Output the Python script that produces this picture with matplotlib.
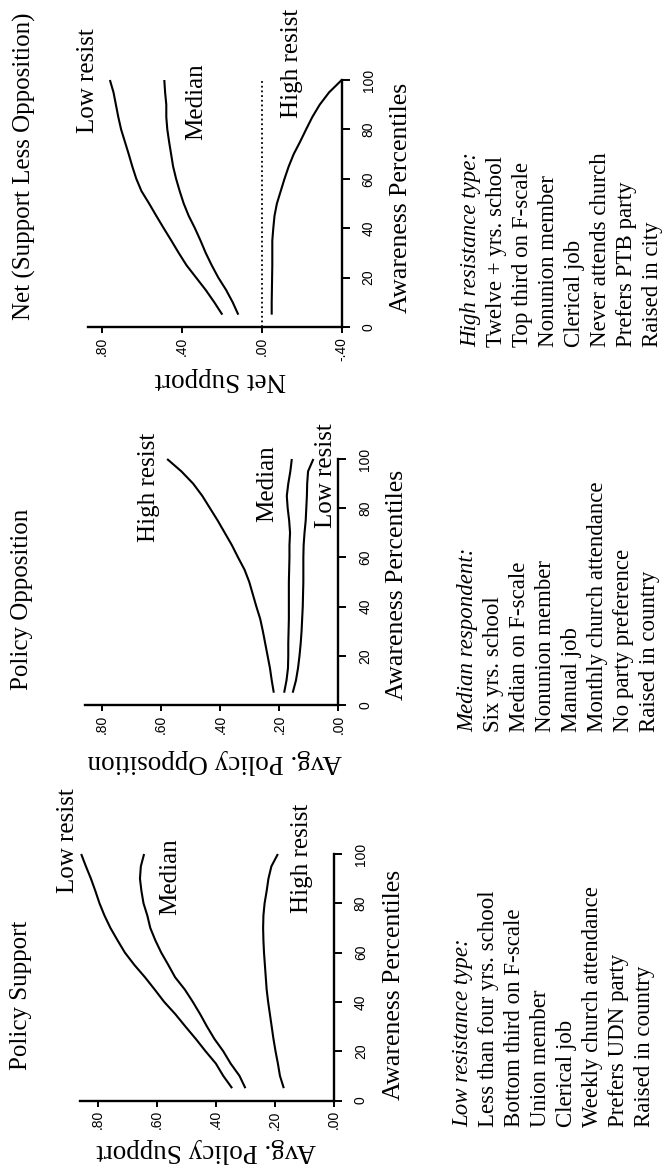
import matplotlib
matplotlib.use("Agg")
import matplotlib.pyplot as plt

W, H, DPI = 666, 1174, 100

# ---------------- data ----------------
awareness = [5, 10, 15, 20, 25, 30, 35, 40, 45, 50, 55, 60, 65, 70, 75, 80, 85, 90, 95, 100]

support_low = [0.345, 0.375, 0.400, 0.435, 0.468, 0.503, 0.537, 0.575, 0.607, 0.640,
               0.676, 0.708, 0.733, 0.757, 0.777, 0.794, 0.808, 0.823, 0.840, 0.856]
support_med = [0.300, 0.320, 0.350, 0.375, 0.405, 0.430, 0.453, 0.478, 0.505, 0.538,
               0.561, 0.585, 0.605, 0.622, 0.632, 0.645, 0.652, 0.657, 0.654, 0.643]
support_high = [0.170, 0.183, 0.190, 0.198, 0.205, 0.211, 0.217, 0.223, 0.228, 0.231,
                0.234, 0.237, 0.239, 0.240, 0.239, 0.235, 0.228, 0.222, 0.212, 0.190]

oppose_low = [0.155, 0.144, 0.137, 0.132, 0.128, 0.125, 0.123, 0.121, 0.120, 0.119,
              0.119, 0.119, 0.118, 0.115, 0.111, 0.109, 0.107, 0.106, 0.103, 0.085]
oppose_med = [0.184, 0.176, 0.171, 0.170, 0.170, 0.169, 0.168, 0.168, 0.168, 0.168,
              0.167, 0.166, 0.166, 0.164, 0.167, 0.172, 0.175, 0.170, 0.163, 0.158]
oppose_high = [0.219, 0.226, 0.232, 0.240, 0.248, 0.256, 0.265, 0.278, 0.290, 0.302,
               0.318, 0.340, 0.361, 0.385, 0.409, 0.435, 0.461, 0.492, 0.532, 0.580]

net_low = [0.197, 0.237, 0.280, 0.328, 0.376, 0.415, 0.452, 0.490, 0.527, 0.563,
           0.601, 0.627, 0.647, 0.665, 0.684, 0.703, 0.717, 0.729, 0.741, 0.759]
net_med = [0.117, 0.145, 0.178, 0.217, 0.250, 0.280, 0.306, 0.334, 0.365, 0.390,
           0.410, 0.428, 0.443, 0.453, 0.463, 0.472, 0.477, 0.477, 0.483, 0.487]
net_high = [-0.050, -0.050, -0.051, -0.052, -0.053, -0.053, -0.053, -0.058, -0.064, -0.076,
            -0.095, -0.114, -0.135, -0.160, -0.192, -0.222, -0.253, -0.290, -0.337, -0.400]

awareness_ticks = [0, 20, 40, 60, 80, 100]
awareness_ticklabels = ["0", "20", "40", "60", "80", "100"]
support_ticks = [0.8, 0.6, 0.4, 0.2, 0.0]
support_ticklabels = [".80", ".60", ".40", ".20", ".00"]
net_ticks = [0.8, 0.4, 0.0, -0.4]
net_ticklabels = [".80", ".40", ".00", "-.40"]

titles = ["Policy Support", "Policy Opposition", "Net (Support Less Opposition)"]
ylabels = ["Avg. Policy Support", "Avg. Policy Opposition", "Net Support"]
xlabel = "Awareness Percentiles"
series_names = ["Low resist", "Median", "High resist"]

block_heads = ["Low resistance type:", "Median respondent:", "High resistance type:"]
block_low = ["Less than four yrs. school", "Bottom third on F-scale", "Union member",
             "Clerical job", "Weekly church attendance", "Prefers UDN party", "Raised in country"]
block_med = ["Six yrs. school", "Median on F-scale", "Nonunion member", "Manual job",
             "Monthly church attendance", "No party preference", "Raised in country"]
block_high = ["Twelve + yrs. school", "Top third on F-scale", "Nonunion member", "Clerical job",
              "Never attends church", "Prefers PTB party", "Raised in city"]

# ---------------- figure ----------------
SERIF = "Liberation Serif"
SANS = "Liberation Sans"

fig = plt.figure(figsize=(W / DPI, H / DPI), dpi=DPI)
fig.patch.set_facecolor("white")


def rect(left, top, right, bottom):
    return [left / W, 1 - bottom / H, (right - left) / W, (bottom - top) / H]


def ftext(x, y, s, **kw):
    fig.text(x / W, 1 - y / H, s, **kw)


panels = [
    dict(rect=rect(80, 854, 334, 1100.5), xlim=(0.86, 0.0),
         series=[support_low, support_med, support_high],
         ticks=support_ticks, ticklabels=support_ticklabels, zero=False),
    dict(rect=rect(85, 459, 338.5, 705), xlim=(0.858, 0.0),
         series=[oppose_low, oppose_med, oppose_high],
         ticks=support_ticks, ticklabels=support_ticklabels, zero=False),
    dict(rect=rect(88.3, 80, 341.7, 327), xlim=(0.867, -0.4),
         series=[net_low, net_med, net_high],
         ticks=net_ticks, ticklabels=net_ticklabels, zero=True),
]

for p in panels:
    ax = fig.add_axes(p["rect"])
    ax.set_facecolor("none")
    for vals in p["series"]:
        ax.plot(vals, awareness, color="black", lw=1.5, clip_on=False,
                solid_capstyle="butt")
    if p["zero"]:
        ax.axvline(0, color="black", lw=1.3, ls=(0, (1, 1.6)))
    ax.set_xlim(*p["xlim"])
    ax.set_ylim(0, 100)
    for side in ("top", "left"):
        ax.spines[side].set_visible(False)
    for side in ("bottom", "right"):
        ax.spines[side].set_linewidth(1.7)
    ax.yaxis.tick_right()
    ax.set_xticks(p["ticks"])
    ax.set_xticklabels(p["ticklabels"], rotation=90, ha="center", va="top",
                       family=SANS, fontsize=10)
    ax.set_yticks(awareness_ticks)
    ax.set_yticklabels(awareness_ticklabels, rotation=90, ha="left", va="center",
                       family=SANS, fontsize=10)
    ax.tick_params(axis="x", direction="out", length=4.5, width=1.4, pad=2.5)
    ax.tick_params(axis="y", direction="out", length=5.8, width=1.4, pad=8.5)

# ---------------- titles ----------------
title_pos = [(26.5, 1070), (28, 690), (31, 320)]
for (x, y), t in zip(title_pos, titles):
    ftext(x, y, t, rotation=90, rotation_mode="anchor", ha="left", va="baseline",
          fontsize=18, family=SERIF)

# ---------------- axis labels (upside down) ----------------
ylabel_pos = [(206, 1144), (215, 755), (220, 373)]
for (x, y), t in zip(ylabel_pos, ylabels):
    ftext(x, y, t, rotation=180, rotation_mode="anchor", ha="center", va="baseline",
          fontsize=19.5, family=SERIF)

xlabel_pos = [(400, 985), (403, 585), (407, 198)]
for (x, y) in xlabel_pos:
    ftext(x, y, xlabel, rotation=90, rotation_mode="anchor", ha="center", va="baseline",
          fontsize=18.5, family=SERIF)

# ---------------- series labels ----------------
series_label_pos = [
    [(74, 893), (176.5, 915), (308, 913)],
    [(332.5, 528), (273, 522), (155, 542)],
    [(94, 133), (202, 140), (298, 118)],
]
for poslist in series_label_pos:
    for (x, y), name in zip(poslist, series_names):
        ftext(x, y, name, rotation=90, rotation_mode="anchor", ha="left", va="baseline",
              fontsize=18, family=SERIF)

# ---------------- description blocks ----------------
blocks = [
    (468, 1127, block_heads[0], block_low),
    (473, 732, block_heads[1], block_med),
    (476, 347, block_heads[2], block_high),
]
LINE = 26.0
for x0, y0, head, lines in blocks:
    ftext(x0, y0, head, rotation=90, rotation_mode="anchor", ha="left", va="baseline",
          fontsize=16.5, family=SERIF, style="italic")
    for i, line in enumerate(lines):
        ftext(x0 + (i + 1) * LINE, y0, line, rotation=90, rotation_mode="anchor",
              ha="left", va="baseline", fontsize=16.5, family=SERIF)

fig.savefig("out.png", dpi=DPI, facecolor="white")
